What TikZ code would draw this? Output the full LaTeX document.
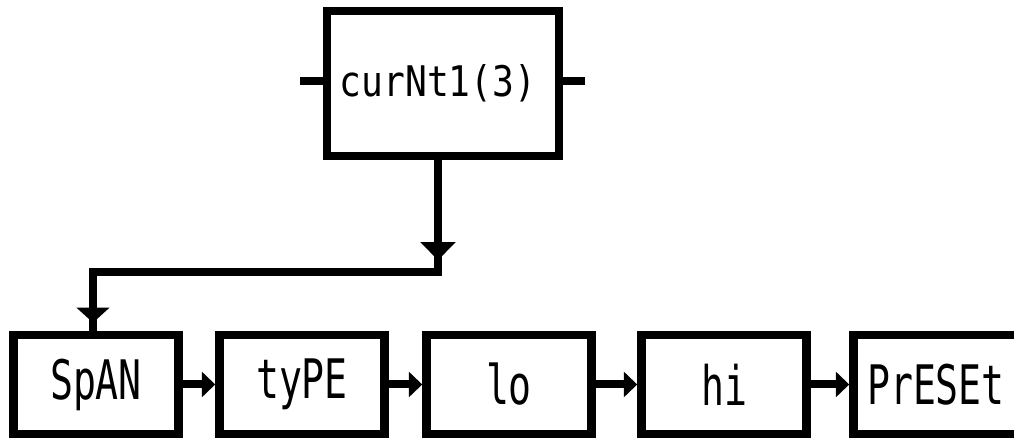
\documentclass[tikz,border=0pt]{standalone}
\usepackage{fontspec}
\newfontfamily\lcdnarrow[FakeStretch=0.7]{DejaVu Sans Mono}
\newfontfamily\lcdtop[FakeStretch=0.86]{DejaVu Sans Mono}
\usetikzlibrary{arrows.meta,decorations.markings}

\begin{document}
\begin{tikzpicture}[x=1cm,y=1cm,>=Triangle,
 blk/.style={draw=black,line width=0.17cm,minimum width=3.3cm,minimum height=1.98cm,inner sep=0pt,font=\lcdnarrow\fontsize{31}{31}\selectfont},
 tblk/.style={draw=black,line width=0.17cm,minimum width=4.64cm,minimum height=2.9cm,inner sep=0pt,font=\lcdtop\fontsize{24}{24}\selectfont},
 w/.style={line width=0.16cm},
 a/.style={w,-{Triangle[length=0.27cm,width=0.5cm]}},
 dn/.style={w,postaction={decorate},decoration={markings,
   mark=at position 2.0cm with {\arrow{Triangle[length=0.36cm,width=0.68cm]}},
   mark=at position -0.16cm with {\arrow{Triangle[length=0.3cm,width=0.64cm]}}}}]
 \useasboundingbox (0,0) rectangle (20.28,8.78);
 \node[tblk] (cur) at (8.86,7.11) {\hspace*{-0.2cm}curNt1(3)};
 \node[blk] (spn) at (1.92,1.09) {SpAN};
 \node[blk] (typ) at (6.04,1.09) {tyPE};
 \node[blk] (lo) at (10.18,1.09) {lo};
 \node[blk] (hi) at (14.48,1.09) {hi};
 \node[blk] (pre) at (18.72,1.09) {PrESEt};
 % side stubs of the top block
 \coordinate (stubl) at ([xshift=-0.46cm,yshift=0.05cm]cur.west);
 \coordinate (stubr) at ([xshift=0.44cm,yshift=0.05cm]cur.east);
 \draw[w] ([yshift=0.05cm]cur.west) -- (stubl);
 \draw[w] ([yshift=0.05cm]cur.east) -- (stubr);
 % drop to the first block
 \coordinate (bend) at (8.76,3.34);
 \coordinate (drop) at (1.86,3.34);
 \draw[dn] (cur.south -| bend) -- (bend) -- (drop) -- (drop |- spn.north);
 % chain
 \draw[a] (spn)--(typ); \draw[a] (typ)--(lo);
 \draw[a] (lo)--(hi); \draw[a] (hi)--(pre);
\end{tikzpicture}
\end{document}
